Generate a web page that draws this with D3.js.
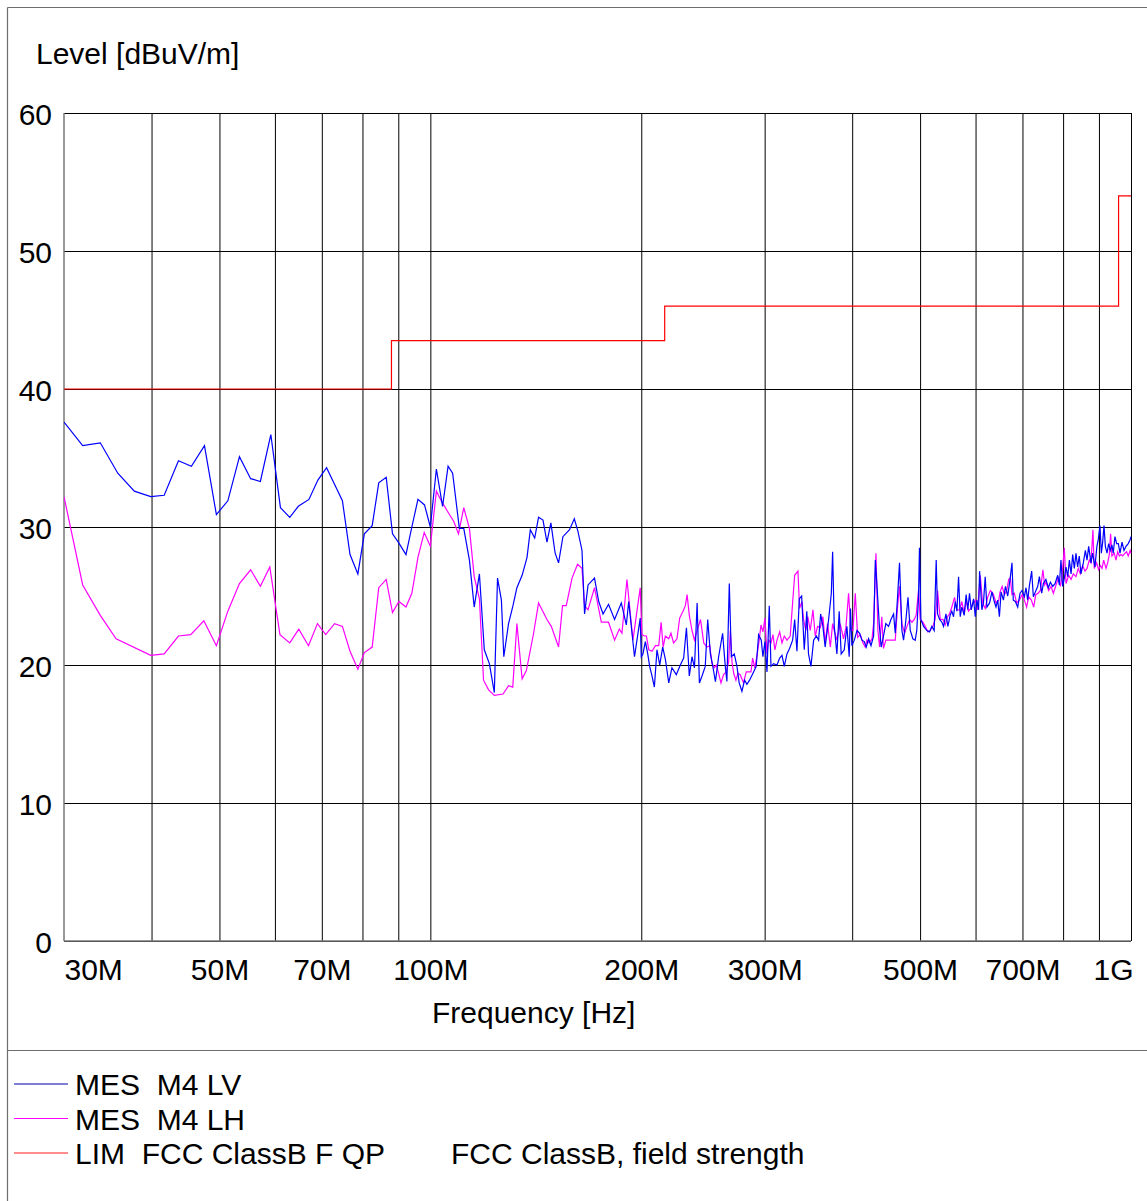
<!DOCTYPE html>
<html>
<head>
<meta charset="utf-8">
<script src="https://cdn.jsdelivr.net/npm/d3@7"></script>
<style>
  html, body { margin: 0; padding: 0; background: #fff; }
  text { font-family: "Liberation Sans", Arial, sans-serif; fill: #000; }
</style>
</head>
<body>
<script>
// ---------------- DATA ----------------
// Frequencies in MHz, levels in dBuV/m
const lvFreq = [
  30, 31.9, 33.8, 35.8, 37.8, 39.9, 41.7, 43.7, 45.6, 47.6, 49.5, 51.4, 53.4, 55.4, 57.2, 59.2, 61.1, 63.0, 64.8, 67.1,
  69.1, 71.1, 74.9, 76.8, 78.8, 80.5, 82.6, 84.4, 86.5, 88.3, 90.0, 92.3, 94.1, 96.0, 98.1, 100, 102.0,
  104.1, 106.0, 107.6, 110.0, 111.6, 113.7, 115.5, 117.5, 119.4, 121.4, 123.4, 124.7, 126.3, 127.3, 129.3, 131.2, 132.9,
  135.2, 137.4, 138.9, 140.9, 142.7, 144.8, 146.7, 148.6, 150.7, 152.4, 154.6, 158.0, 160.5, 162.4, 164.6, 166.0, 167.9,
  171.5, 173.9, 176.4, 179.6, 183.2, 187.3, 190.4, 191.9, 195.6, 199.3,
  200.0, 201.1, 202.7, 204.3, 205.6, 207.2, 208.8, 210.6, 212.5, 214.6, 216.5, 218.9, 221.2, 224.4, 227.4, 229.9, 232.0,
  234.2, 236.3, 238.2, 240.3, 242.1, 244.2, 246.8, 248.8, 251.0, 253.2, 255.2, 257.9, 261.3, 263.6, 265.0, 267.1, 268.9,
  271.5, 273.9, 275.9, 278.4, 280.9, 283.0, 285.5, 289.3, 291.8, 294.1, 296.7, 298.3, 300.3, 302.3, 304.6, 306.3, 308.9,
  312.4, 315.2, 317.6, 320.0, 322.8, 325.6, 328.9, 331.1, 333.6, 336.2, 338.8, 341.7, 344.6, 346.5, 349.3, 352.4, 355.5,
  358.2, 360.6, 363.3, 366.0, 370.2, 373.5, 375.1, 377.1, 380.4, 383.3, 385.8, 389.7, 393.1, 396.1, 397.8,
  399.6, 402.8, 406.4, 409.9, 413.1, 416.2, 418.9, 422.2, 425.5, 429.2, 431.6, 434.0, 437.3, 440.0, 443.3, 446.8, 450.8,
  454.3, 458.3, 460.8, 464.3, 467.3, 471.0, 473.6, 477.3, 480.5, 484.1, 488.3, 492.0, 494.6, 497.4, 499.0, 501.3, 505.8,
  511.3, 515.8, 519.7, 523.7, 527.2, 529.6, 533.1, 537.2, 540.1, 544.3, 547.8, 551.9, 555.0, 558.1, 561.2, 564.3, 567.4,
  570.5, 573.6, 578.0, 581.7, 584.9, 588.2, 591.5, 596.1, 599.4, 602.7, 606.0, 608.0, 612.6, 615.8, 619.3, 622.8, 628.3,
  633.2, 638.0,
  641.7, 645.3, 648.9, 652.5, 657.5, 661.9, 666.9, 672.0, 676.3, 679.2, 683.8, 689.1, 694.5, 699.1, 704.4, 708.2, 712.0,
  715.9, 721.5, 725.5, 730.4, 736.0, 740.0, 745.7, 749.7, 756.1, 762.1, 767.2, 773.1, 779.1, 785.9, 790.2, 794.4, 798.7,
  803.2, 807.7, 812.2, 816.7, 821.2, 825.6, 830.1, 834.6, 839.1, 843.6, 848.3, 855.0, 860.7, 865.4, 870.1, 876.8, 881.5,
  888.2, 894.0, 898.1, 903.1, 907.1, 911.1, 915.1, 919.2, 924.2, 929.2, 934.2, 939.2, 943.3, 948.6, 953.9, 959.2, 964.5,
  970.9, 977.3, 983.6, 991.0, 997.4, 1000
];
const lvLevel = [
  37.6, 35.9, 36.1, 33.9, 32.6, 32.2, 32.3, 34.8, 34.4, 35.9, 30.9, 31.9, 35.1, 33.5, 33.3, 36.7, 31.4, 30.7, 31.5, 32.0,
  33.4, 34.3, 31.9, 28.0, 26.6, 29.5, 30.1, 33.2, 33.6, 29.5, 28.9, 28.0, 30.0, 32.0, 31.6, 30.0, 34.2,
  31.5, 34.4, 33.9, 29.9, 29.9, 27.6, 24.2, 26.6, 21.1, 20.1, 18.0, 26.3, 24.7, 20.6, 23.0, 24.3, 25.6,
  26.5, 27.8, 29.8, 29.2, 30.7, 30.5, 28.9, 30.3, 28.1, 27.4, 29.3, 29.8, 30.6, 29.7, 28.3, 23.7, 25.8,
  26.3, 24.6, 23.7, 24.4, 23.3, 24.5, 22.9, 24.6, 20.6, 23.4,
  20.6, 20.8, 21.7, 20.8, 19.9, 19.2, 18.4, 21.1, 20.0, 21.3, 20.4, 18.7, 19.8, 19.3, 20.0, 20.5, 22.7,
  19.2, 20.6, 19.8, 24.5, 18.7, 19.2, 19.9, 23.3, 20.8, 19.8, 18.8, 20.6, 22.3, 19.9, 18.8, 25.9, 20.6,
  20.8, 19.9, 18.7, 18.1, 18.9, 18.6, 18.9, 19.5, 19.9, 22.2, 21.8, 20.6, 21.7, 19.5, 24.3, 19.9, 20.1,
  20.0, 20.5, 20.7, 19.9, 20.8, 21.2, 21.8, 23.3, 21.0, 24.8, 25.0, 21.1, 23.9, 20.8, 19.9, 21.8, 22.1,
  21.8, 23.7, 22.8, 21.3, 23.3, 25.2, 28.2, 22.8, 20.8, 23.9, 20.8, 21.1, 22.8, 20.6, 24.1,
  21.4, 21.8, 22.5, 22.3, 21.8, 21.7, 21.3, 21.9, 21.4, 22.1, 27.6, 25.7, 22.9, 21.3, 22.1, 23.0, 22.8,
  23.3, 23.7, 22.3, 24.9, 27.4, 22.5, 21.8, 23.3, 24.9, 22.5, 21.9, 21.8, 22.5, 24.9, 28.5, 23.3, 22.8,
  22.5, 22.4, 22.8, 22.5, 27.6, 23.7, 23.3, 23.1, 22.8, 23.7, 22.8, 23.6, 23.9, 23.5, 24.6, 23.9, 26.4,
  23.5, 24.2, 23.6, 25.1, 24.0, 25.2, 24.0, 24.8, 23.5, 24.7, 24.0, 26.8, 24.0, 24.5, 26.4, 24.2, 24.5,
  25.3, 24.6,
  24.2, 24.7, 23.5, 25.3, 24.7, 25.7, 25.0, 26.2, 27.4, 24.7, 24.6, 24.2, 25.2, 25.4, 24.95, 25.6, 24.7,
  25.7, 26.8, 24.95, 25.3, 25.7, 26.4, 25.2, 25.9, 26.2, 25.6, 26.0, 25.7, 25.9, 26.5, 25.8, 27.6, 25.7,
  26.3, 27.1, 26.4, 27.6, 26.6, 28.0, 27.0, 28.1, 27.1, 27.9, 26.6, 27.4, 28.3, 27.6, 28.6, 27.4, 28.1,
  27.1, 28.6, 29.1, 30.1, 28.1, 28.9, 30.1, 28.6, 28.1, 28.8, 28.3, 28.7, 28.1, 29.3, 28.8, 28.8, 28.1,
  28.9, 28.3, 28.6, 28.8, 29.1, 29.3
];

const lhFreq = [
  30, 31.9, 33.8, 35.6, 39.9, 41.7, 43.7, 45.5, 47.5, 49.5, 51.4, 53.4, 55.4, 57.2, 59.0, 61.0, 63.0, 64.9, 67.0, 69.0,
  70.9, 73.0, 74.9, 76.8, 78.8, 80.5, 82.6, 84.4, 86.5, 88.3, 90.2, 92.3, 94.1, 96.0, 98.0, 100, 102.0,
  103.9, 106.2, 108.0, 109.7, 111.6, 113.7, 115.5, 117.5, 119.1, 121.1, 123.4, 127.0, 129.3, 131.1, 132.9, 135.2, 137.1,
  140.4, 142.7, 146.7, 148.8, 152.4, 154.4, 156.3, 159.3, 162.2, 164.6, 166.0, 167.9, 171.5, 175.4, 179.6, 183.2, 186.1,
  187.7, 190.8, 194.6,
  199.3, 200.4, 202.0, 203.4, 205.0, 207.2, 209.5, 211.8, 213.5, 214.9, 216.5, 218.9, 220.5, 222.4, 224.9, 226.9, 229.4,
  231.2, 232.5, 234.2, 236.3, 238.2, 240.3, 243.0, 245.6, 248.2, 250.4, 252.4, 254.3, 256.0, 257.9, 259.9, 262.1, 264.5,
  266.5, 268.0, 269.5, 271.0, 273.0, 274.8, 276.8, 279.9, 282.4, 284.6, 286.8, 288.4, 290.4, 292.4, 294.7, 296.4, 298.3,
  300.3, 302.3, 304.0, 306.3, 308.3, 310.3, 312.4, 315.2, 317.6, 320.0, 322.8, 326.3, 329.2, 331.1, 334.7, 336.5, 339.1,
  340.9, 343.5, 345.7, 348.5, 351.6, 354.3, 357.0, 360.2, 363.3, 366.0, 368.9, 372.3, 375.1, 377.5, 380.4, 384.5, 388.8,
  391.8, 395.3, 398.2,
  401.0, 404.1, 407.3, 410.8, 414.4, 417.6, 419.8, 423.1, 426.9, 429.2, 432.5, 435.3, 437.7, 440.9, 443.3, 446.8, 450.8,
  455.8, 460.8, 464.3, 467.3, 471.0, 475.2, 478.9, 483.1, 486.8, 490.5, 493.6, 497.4, 500.2, 504.6, 508.5, 513.0, 516.9,
  521.4, 525.4, 529.6, 534.3, 539.0, 543.1, 547.2, 550.8, 555.0, 560.0, 564.3, 569.3, 573.6, 578.0, 581.7, 586.2, 590.8,
  596.1, 600.0, 603.9, 609.3, 614.0, 619.3, 624.2, 629.8, 635.3, 640.2,
  641.7, 647.5, 650.3, 654.7, 659.7, 664.7, 669.1, 672.7, 676.3, 681.5, 686.8, 692.9, 699.1, 704.4, 709.7, 714.3, 720.7,
  726.3, 731.2, 736.8, 742.4, 748.6, 752.7, 756.1, 762.9, 768.9, 774.8, 781.6, 787.6, 792.7, 797.0, 803.2, 807.7, 814.9,
  821.2, 827.4, 834.6, 840.9, 846.4, 853.1, 859.7, 865.4, 872.0, 876.8, 882.4, 886.2, 893.0, 899.1, 904.1, 909.1, 914.1,
  921.2, 926.2, 931.2, 935.2, 939.2, 946.5, 951.8, 957.1, 962.4, 967.7, 973.0, 980.4, 985.7, 991.0, 997.4, 1000
];
const lhLevel = [
  32.2, 25.8, 23.6, 21.9, 20.7, 20.8, 22.1, 22.2, 23.2, 21.4, 23.9, 25.9, 26.9, 25.7, 27.1, 22.2, 21.6, 22.6, 21.4, 23.0,
  22.2, 23.0, 22.8, 21.0, 19.7, 20.9, 21.3, 25.6, 26.2, 23.8, 24.6, 24.2, 25.2, 27.8, 29.6, 28.6, 32.6,
  31.8, 31.0, 30.4, 29.5, 31.4, 29.9, 26.4, 24.8, 18.9, 18.2, 17.8, 17.9, 18.5, 18.4, 23.0, 19.0, 19.6,
  22.3, 24.5, 23.3, 22.8, 21.3, 24.3, 24.3, 26.3, 27.3, 27.0, 24.3, 24.0, 25.6, 23.1, 23.1, 21.8, 22.6,
  22.3, 26.2, 21.8,
  25.6, 22.2, 22.1, 22.1, 21.1, 21.0, 21.4, 21.4, 23.1, 21.3, 22.1, 21.9, 22.3, 21.6, 21.9, 23.4, 23.9,
  24.3, 25.1, 23.6, 22.5, 21.8, 22.5, 23.3, 21.6, 21.3, 21.4, 20.1, 19.8, 20.0, 19.4, 18.7, 19.3, 19.5,
  20.2, 22.5, 20.2, 19.4, 18.9, 19.4, 19.3, 18.7, 19.5, 19.5, 19.5, 20.5, 19.8, 20.6, 21.8, 22.9, 22.4,
  23.4, 20.8, 21.8, 21.6, 22.2, 21.1, 21.8, 22.4, 21.6, 22.1, 21.8, 22.1, 24.8, 26.5, 26.8, 24.1, 24.6,
  23.3, 22.5, 23.5, 22.5, 24.0, 22.1, 22.8, 22.7, 23.5, 21.6, 23.0, 21.3, 23.0, 22.4, 21.8, 23.0, 21.9,
  22.7, 25.2, 22.5,
  22.5, 25.2, 22.0, 22.2, 21.6, 21.3, 21.8, 21.6, 21.9, 23.0, 28.1, 22.5, 21.3, 23.5, 21.2, 21.8, 21.8,
  21.8, 21.8, 24.2, 25.7, 23.0, 22.3, 22.8, 23.3, 23.1, 23.3, 23.6, 25.4, 23.3, 23.1, 22.8, 22.4, 22.5,
  22.8, 23.3, 25.4, 23.3, 23.3, 22.9, 23.5, 23.7, 24.2, 24.9, 24.0, 24.0, 24.6, 23.7, 24.7, 23.9, 24.1,
  24.5, 24.7, 24.0, 26.5, 24.5, 24.1, 24.9, 25.4, 25.2, 24.7,
  24.5, 24.7, 25.3, 25.7, 25.1, 25.4, 26.2, 26.3, 25.1, 25.2, 24.5, 24.7, 25.1, 24.7, 24.2, 24.95, 24.7,
  24.2, 25.1, 25.2, 25.4, 26.9, 25.8, 26.0, 25.4, 25.7, 25.2, 25.8, 26.3, 25.7, 26.4, 28.5, 25.9, 26.5,
  26.2, 26.6, 26.4, 27.0, 26.6, 27.2, 26.8, 27.0, 27.6, 27.4, 29.8, 27.0, 27.4, 26.9, 27.2, 27.0, 27.6,
  27.0, 27.4, 28.0, 29.5, 27.9, 28.1, 27.6, 28.2, 27.9, 28.0, 27.9, 28.1, 28.2, 27.9, 28.3, 28.1
];

// FCC Class B field-strength limit (step after)
const limFreq  = [30, 88, 216, 960, 1000];
const limLevel = [40, 43.5, 46, 54, 54];

const yTicks = [0, 10, 20, 30, 40, 50, 60];
const xGridTicks = [40, 50, 60, 70, 80, 90, 100, 200, 300, 400, 500, 600, 700, 800, 900, 1000];
const xLabelValues = [30, 50, 70, 100, 200, 300, 500, 700, 1000];
const xLabelTexts  = ["30M", "50M", "70M", "100M", "200M", "300M", "500M", "700M", "1G"];

const legendNames = ["MES  M4 LV", "MES  M4 LH", "LIM  FCC ClassB F QP"];
const legendExtra = ["", "", "FCC ClassB, field strength"];
const legendColors = ["#0000b0", "#ff00ff", "#ff0000"];

// ---------------- CHART ----------------
const W = 1147, H = 1201;
const PX0 = 64, PX1 = 1131, PY0 = 113, PY1 = 941;

const svg = d3.select("body").append("svg")
  .attr("width", W).attr("height", H)
  .style("display", "block");

svg.append("rect").attr("width", W).attr("height", H).attr("fill", "#fff");

const x = d3.scaleLog().domain([30, 1000]).range([PX0, PX1]);
const y = d3.scaleLinear().domain([0, 60]).range([PY1, PY0]);

// outer frame (top & left) and divider
const frameColor = "#6e6e6e";
svg.append("line").attr("x1", 7.5).attr("x2", W).attr("y1", 7.5).attr("y2", 7.5)
  .attr("stroke", frameColor).attr("stroke-width", 1.2);
svg.append("line").attr("x1", 7.5).attr("x2", 7.5).attr("y1", 7.5).attr("y2", H)
  .attr("stroke", frameColor).attr("stroke-width", 1.2);
svg.append("line").attr("x1", 7.5).attr("x2", W).attr("y1", 1050.5).attr("y2", 1050.5)
  .attr("stroke", frameColor).attr("stroke-width", 1.2);

// vertical grid
const gx = svg.append("g").attr("transform", `translate(0,${PY1})`)
  .call(d3.axisBottom(x).tickValues(xGridTicks).tickSize(-(PY1 - PY0)).tickFormat(""));
gx.select(".domain").remove();
gx.selectAll("line").attr("stroke", "#000").attr("stroke-width", 1);

// horizontal grid
const gy = svg.append("g").attr("transform", `translate(${PX0},0)`)
  .call(d3.axisLeft(y).tickValues(yTicks).tickSize(-(PX1 - PX0)).tickFormat(""));
gy.select(".domain").remove();
gy.selectAll("line").attr("stroke", "#000").attr("stroke-width", 1);

// axis border lines (left & bottom), greyish
svg.append("line").attr("x1", PX0).attr("x2", PX0).attr("y1", PY0).attr("y2", PY1)
  .attr("stroke", "#777").attr("stroke-width", 1.5);
svg.append("line").attr("x1", PX0).attr("x2", PX1).attr("y1", PY1).attr("y2", PY1)
  .attr("stroke", "#777").attr("stroke-width", 1.5);

// y labels
const yl = svg.append("g").attr("transform", `translate(${PX0},0)`)
  .call(d3.axisLeft(y).tickValues(yTicks).tickSize(0).tickPadding(12).tickFormat(d3.format("d")));
yl.select(".domain").remove();
yl.selectAll("text").attr("font-size", 30).attr("dy", "0.37em")
  .style("font-family", '"Liberation Sans", Arial, sans-serif').attr("fill", "#000");

// x labels
const xl = svg.append("g").attr("transform", `translate(0,${PY1})`)
  .call(d3.axisBottom(x).tickValues(xLabelValues).tickSize(0).tickPadding(0)
    .tickFormat((d, i) => xLabelTexts[i]));
xl.select(".domain").remove();
xl.selectAll("text").attr("font-size", 30).attr("y", 39).attr("dy", 0)
  .style("font-family", '"Liberation Sans", Arial, sans-serif').attr("fill", "#000")
  .attr("text-anchor", (d, i) => i === 0 ? "start" : (i === xLabelValues.length - 1 ? "end" : "middle"))
  .attr("dx", (d, i) => i === xLabelValues.length - 1 ? 2 : 0);

// titles
svg.append("text").attr("x", 36).attr("y", 64).attr("font-size", 30).text("Level [dBuV/m]");
svg.append("text").attr("x", 432).attr("y", 1023).attr("font-size", 30).text("Frequency [Hz]");

// clip
svg.append("clipPath").attr("id", "plotclip").append("rect")
  .attr("x", PX0).attr("y", PY0 - 1).attr("width", PX1 - PX0 + 1).attr("height", PY1 - PY0 + 2);

const plot = svg.append("g").attr("clip-path", "url(#plotclip)");

const line = d3.line().x(d => x(d[0])).y(d => y(d[1]));

const lhData = lhFreq.map((f, i) => [f, lhLevel[i]]);
const lvData = lvFreq.map((f, i) => [f, lvLevel[i]]);
const limData = limFreq.map((f, i) => [f, limLevel[i]]);

plot.append("path").datum(lhData).attr("d", line)
  .attr("fill", "none").attr("stroke", "#ff00ff").attr("stroke-width", 1.2);
plot.append("path").datum(lvData).attr("d", line)
  .attr("fill", "none").attr("stroke", "#0000ff").attr("stroke-width", 1.2);
plot.append("path").datum(limData).attr("d", d3.line().curve(d3.curveStepAfter).x(d => x(d[0])).y(d => y(d[1])))
  .attr("fill", "none").attr("stroke", "#ff0000").attr("stroke-width", 1.2);

// legend
const legRows = [1084, 1118.5, 1153];
const lg = svg.append("g");
legendNames.forEach((name, i) => {
  lg.append("line").attr("x1", 14).attr("x2", 68).attr("y1", legRows[i]).attr("y2", legRows[i])
    .attr("stroke", legendColors[i]).attr("stroke-width", i === 2 ? 1.6 : 1.2)
    .attr("stroke-opacity", i === 2 ? 0.6 : 1);
  lg.append("text").attr("x", 75).attr("y", legRows[i] + 11).attr("font-size", 30)
    .style("white-space", "pre").attr("xml:space", "preserve").text(name);
  if (legendExtra[i]) {
    lg.append("text").attr("x", 451).attr("y", legRows[i] + 11).attr("font-size", 30).text(legendExtra[i]);
  }
});
</script>
</body>
</html>
